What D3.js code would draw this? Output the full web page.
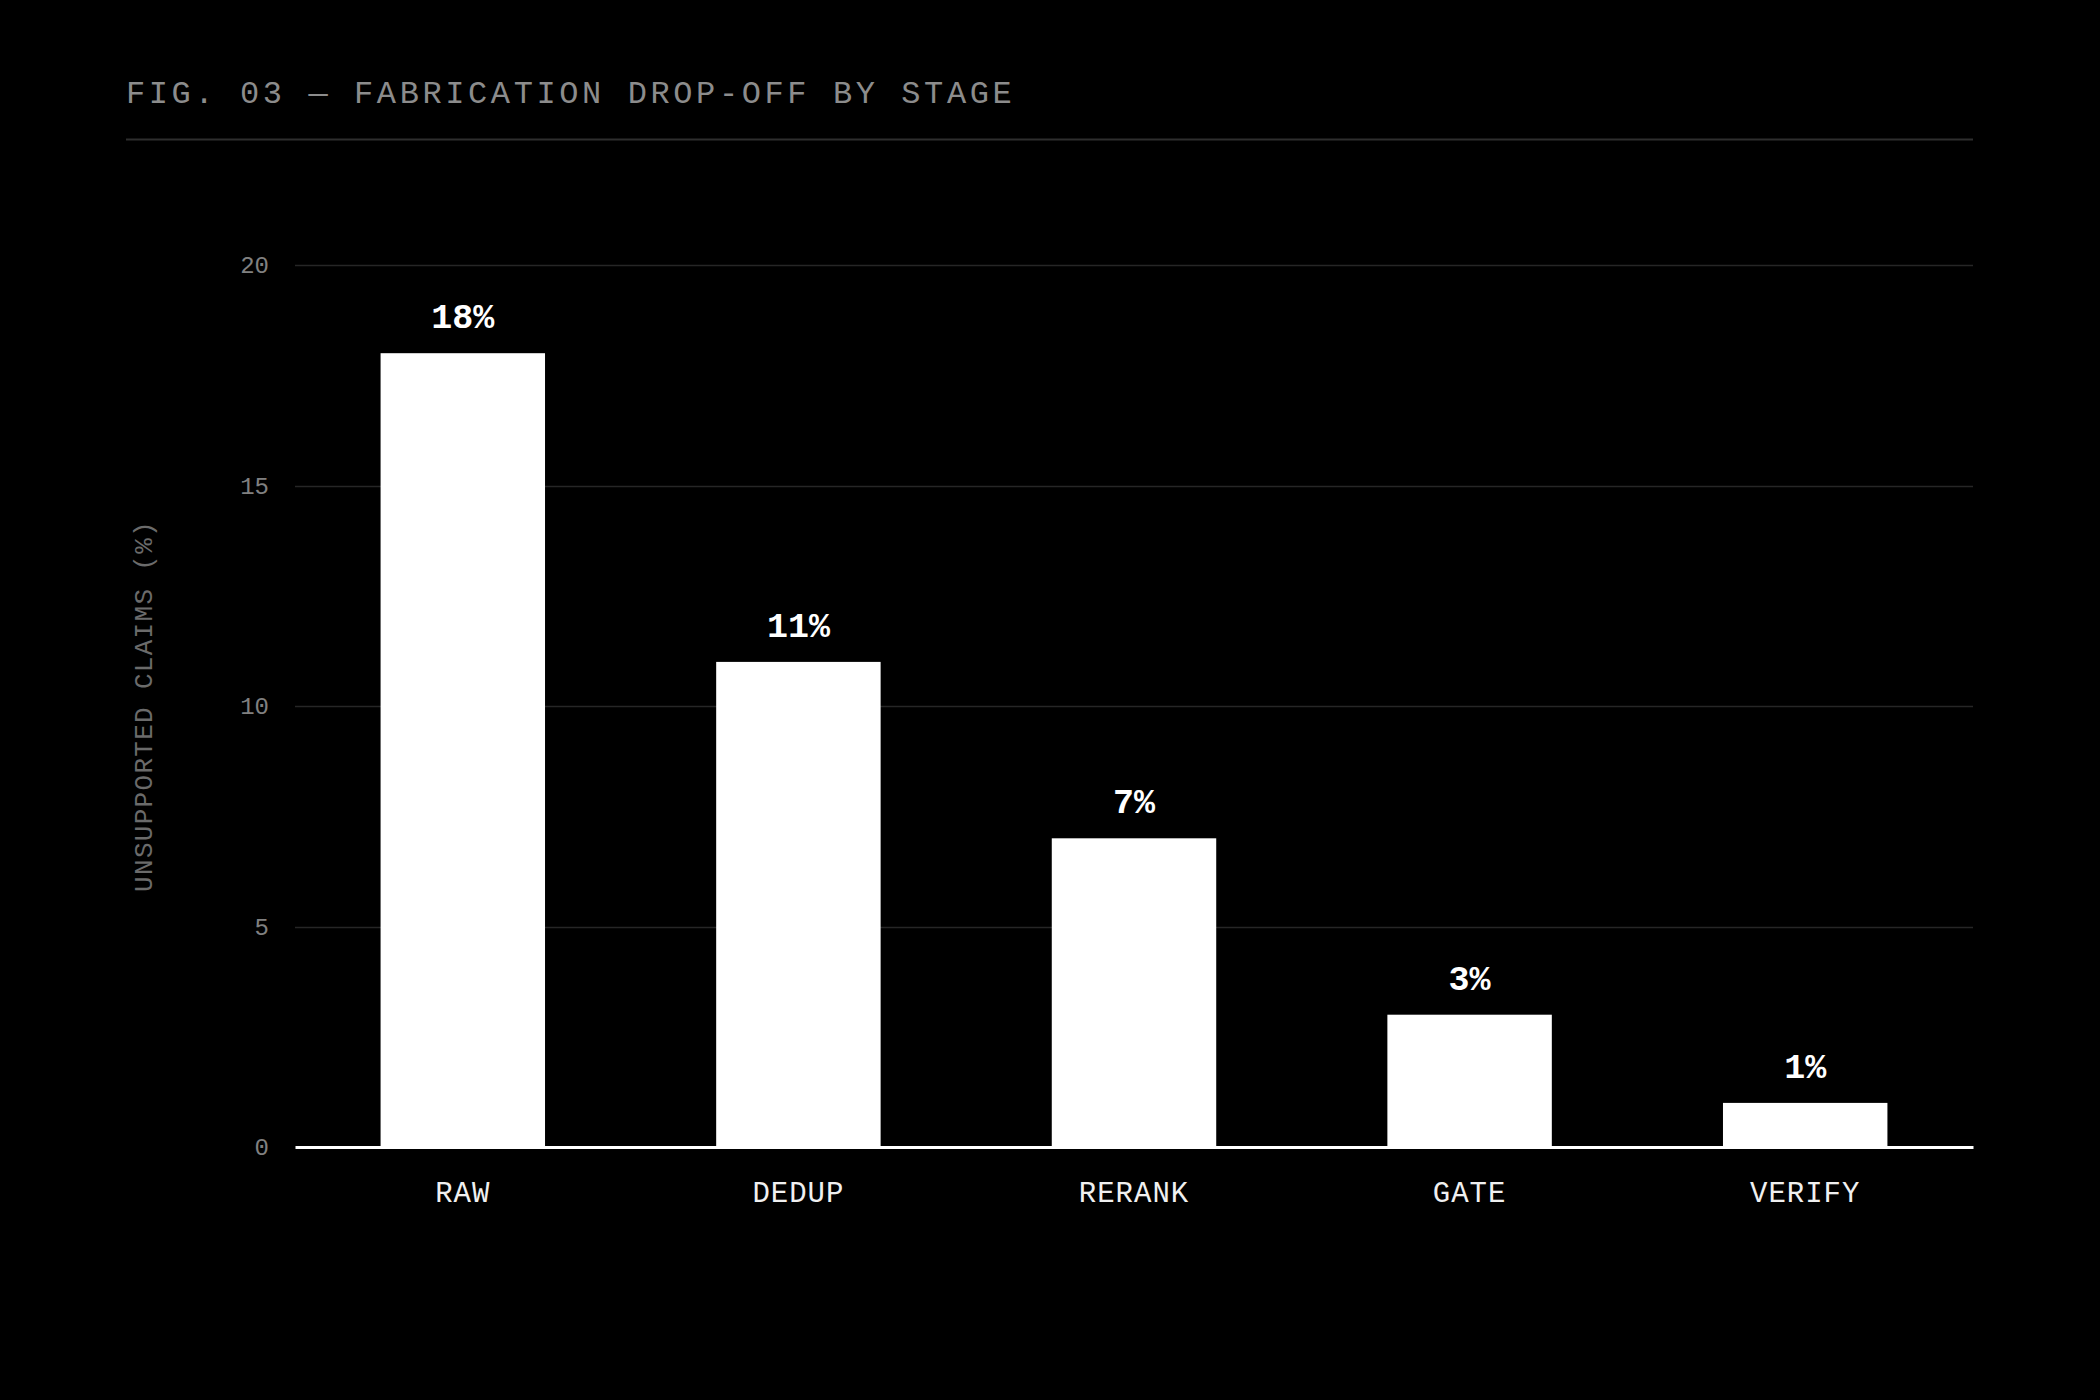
<!DOCTYPE html>
<html>
<head>
<meta charset="utf-8">
<script src="https://cdn.jsdelivr.net/npm/d3@7"></script>
<style>
  html, body { margin: 0; padding: 0; background: #000; }
  svg { display: block; }
  text { font-family: "Liberation Mono", "DejaVu Sans Mono", monospace; }
</style>
</head>
<body>
<div id="chart"></div>
<script>
// stages and the share of unsupported claims left after each one
const stages = ['RAW', 'DEDUP', 'RERANK', 'GATE', 'VERIFY'];
const values = [18, 11, 7, 3, 1];
const yTicks = [0, 5, 10, 15, 20];

const title = 'FIG. 03 \u2014 FABRICATION DROP-OFF BY STAGE';
const yLabel = 'UNSUPPORTED CLAIMS (%)';

const width = 2100, height = 1400;
const margin = { top: 265, right: 127, bottom: 253, left: 295 };

const svg = d3.select('#chart').append('svg')
  .attr('width', width)
  .attr('height', height)
  .style('background', '#000');

// header
svg.append('text')
  .attr('x', 126)
  .attr('y', 103)
  .attr('fill', '#8c8c8c')
  .attr('font-size', 32)
  .attr('letter-spacing', 3.6)
  .text(title);

svg.append('line')
  .attr('x1', 126).attr('x2', width - margin.right)
  .attr('y1', 139.5).attr('y2', 139.5)
  .attr('stroke', '#2e2e2e')
  .attr('stroke-width', 2);

const x = d3.scaleBand()
  .domain(stages)
  .range([margin.left, width - margin.right])
  .paddingInner(0.51)
  .paddingOuter(0.255);

const y = d3.scaleLinear()
  .domain([0, 20])
  .range([height - margin.bottom, margin.top]);

// gridlines
svg.append('g')
  .selectAll('line')
  .data(yTicks.filter(d => d > 0))
  .join('line')
  .attr('x1', margin.left)
  .attr('x2', width - margin.right)
  .attr('y1', d => Math.round(y(d)) + 0.5)
  .attr('y2', d => Math.round(y(d)) + 0.5)
  .attr('stroke', '#262626')
  .attr('stroke-width', 1.5);

// y axis ticks
const yAxis = d3.axisLeft(y).tickValues(yTicks).tickSize(0).tickPadding(26);
const gy = svg.append('g')
  .attr('transform', `translate(${margin.left},0)`)
  .call(yAxis);
gy.select('.domain').remove();
gy.selectAll('text')
  .attr('fill', '#808080')
  .attr('font-size', 24)
  .style('font-family', '"Liberation Mono", monospace');

svg.append('text')
  .attr('transform', `translate(152,${(y(0) + y(20)) / 2}) rotate(-90)`)
  .attr('text-anchor', 'middle')
  .attr('fill', '#6b6b6b')
  .attr('font-size', 26)
  .attr('letter-spacing', 1.3)
  .text(yLabel);

// bars
svg.append('g')
  .selectAll('rect')
  .data(values)
  .join('rect')
  .attr('x', (d, i) => x(stages[i]))
  .attr('width', x.bandwidth())
  .attr('y', d => y(d))
  .attr('height', d => y(0) - y(d))
  .attr('fill', '#ffffff');

// value labels
svg.append('g')
  .selectAll('text')
  .data(values)
  .join('text')
  .attr('x', (d, i) => x(stages[i]) + x.bandwidth() / 2)
  .attr('y', d => y(d) - 25)
  .attr('text-anchor', 'middle')
  .attr('fill', '#ffffff')
  .attr('font-size', 35)
  .attr('font-weight', 'bold')
  .text(d => d + '%');

// x axis
const xAxis = d3.axisBottom(x).tickSize(0).tickPadding(34);
const gx = svg.append('g')
  .attr('transform', `translate(0,${y(0)})`)
  .call(xAxis);
gx.select('.domain')
  .attr('stroke', '#ffffff')
  .attr('stroke-width', 3);
gx.selectAll('text')
  .attr('fill', '#f0f0f0')
  .attr('font-size', 29)
  .attr('letter-spacing', 1)
  .style('font-family', '"Liberation Mono", monospace');
</script>
</body>
</html>
